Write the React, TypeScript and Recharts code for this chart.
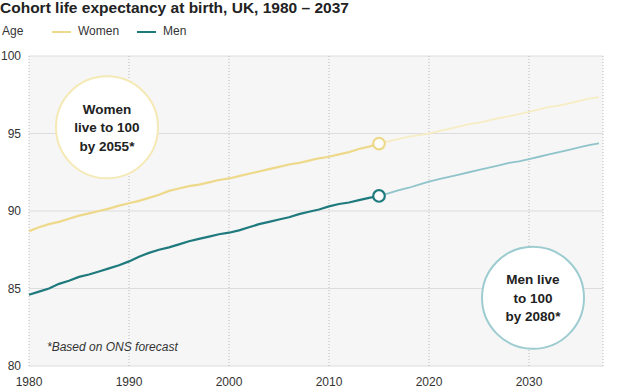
import React from "react";
import {
  LineChart,
  Line,
  XAxis,
  YAxis,
  CartesianGrid,
  ReferenceDot,
} from "recharts";

// years 1980 - 2037
const years = Array.from({ length: 58 }, (_, i) => 1980 + i);

// observed, 1980 - 2015
const womenObserved = [
  88.7, 88.95, 89.15, 89.3, 89.5, 89.7, 89.85, 90.0, 90.15, 90.35,
  90.5, 90.65, 90.85, 91.05, 91.3, 91.45, 91.6, 91.7, 91.85, 92.0,
  92.1, 92.25, 92.4, 92.55, 92.7, 92.85, 93.0, 93.1, 93.25, 93.4,
  93.5, 93.65, 93.8, 94.0, 94.15, 94.35,
];
const menObserved = [
  84.6, 84.8, 85.0, 85.3, 85.5, 85.75, 85.9, 86.1, 86.3, 86.5,
  86.75, 87.05, 87.3, 87.5, 87.65, 87.85, 88.05, 88.2, 88.35, 88.5,
  88.6, 88.75, 88.95, 89.15, 89.3, 89.45, 89.6, 89.8, 89.95, 90.1,
  90.3, 90.45, 90.55, 90.7, 90.85, 90.97,
];

// forecast, 2015 - 2037
const womenForecast = [
  94.35, 94.5, 94.65, 94.8, 94.9, 95.0, 95.15, 95.3, 95.45, 95.6,
  95.7, 95.85, 96.0, 96.1, 96.25, 96.4, 96.55, 96.7, 96.8, 96.95,
  97.1, 97.25, 97.35,
];
const menForecast = [
  90.97, 91.15, 91.35, 91.5, 91.7, 91.9, 92.05, 92.2, 92.35, 92.5,
  92.65, 92.8, 92.95, 93.1, 93.2, 93.35, 93.5, 93.65, 93.8, 93.95,
  94.1, 94.25, 94.36,
];

const forecastStart = 2015;
const xTicks = [1980, 1990, 2000, 2010, 2020, 2030];
const yTicks = [80, 85, 90, 95, 100];

const data = years.map((year, i) => {
  const j = year - forecastStart;
  return {
    year,
    women: i < womenObserved.length ? womenObserved[i] : null,
    men: i < menObserved.length ? menObserved[i] : null,
    womenF: j >= 0 ? womenForecast[j] : null,
    menF: j >= 0 ? menForecast[j] : null,
  };
});

const WOMEN = "#eed98a";
const WOMEN_LIGHT = "#f7edc4";
const MEN = "#1f7a7e";
const MEN_LIGHT = "#8fc4ca";
const FONT = "'Liberation Sans', Arial, sans-serif";

const legendItems = [
  { name: "Women", color: WOMEN, line: 52, text: 78 },
  { name: "Men", color: MEN, line: 137, text: 163 },
];

const endDot = (color: string) => (props: any) => {
  const { cx, cy, payload, index } = props;
  if (payload.year !== forecastStart || cx == null) return <g key={index} />;
  return (
    <circle
      key={index}
      cx={cx}
      cy={cy}
      r={5.8}
      fill="#fcfcfc"
      stroke={color}
      strokeWidth={2.2}
    />
  );
};

const bubble = (lines: string[], stroke: string) => (props: any) => {
  const { cx, cy } = props;
  return (
    <g>
      <circle cx={cx} cy={cy} r={51} fill="#ffffff" stroke={stroke} strokeWidth={2} />
      {lines.map((t, i) => (
        <text
          key={i}
          x={cx}
          y={cy + (i - 1) * 18.5}
          dy="0.35em"
          textAnchor="middle"
          fontSize={13.5}
          fontWeight="bold"
          fill="#222"
          fontFamily={FONT}
        >
          {t}
        </text>
      ))}
    </g>
  );
};

export default function App() {
  return (
    <div
      style={{
        position: "absolute",
        left: 0,
        top: 0,
        width: 621,
        height: 388,
        background: "#fff",
        fontFamily: FONT,
        overflow: "hidden",
      }}
    >
      <div
        style={{
          position: "absolute",
          left: 0,
          top: 0,
          fontSize: 15.5,
          lineHeight: "15px",
          fontWeight: "bold",
          color: "#222",
          whiteSpace: "nowrap",
        }}
      >
        Cohort life expectancy at birth, UK, 1980 – 2037
      </div>
      <div
        style={{
          position: "absolute",
          left: 0,
          top: 24,
          width: 300,
          height: 16,
          fontSize: 12,
          color: "#333",
        }}
      >
        <span style={{ position: "absolute", left: 2, top: 0 }}>Age</span>
        {legendItems.map((p) => (
          <React.Fragment key={p.name}>
            <span
              style={{
                position: "absolute",
                left: p.line,
                top: 7,
                width: 19,
                height: 2,
                background: p.color,
              }}
            />
            <span style={{ position: "absolute", left: p.text, top: 0 }}>
              {p.name}
            </span>
          </React.Fragment>
        ))}
      </div>
      <LineChart
        width={621}
        height={388}
        data={data}
        margin={{ top: 56, right: 18, bottom: 0, left: 0 }}
      >
        <CartesianGrid
          vertical={false}
          fill="#f6f6f6"
          stroke="#dcdcdc"
          strokeWidth={1}
        />
        <CartesianGrid
          horizontal={false}
          stroke="#b8b8b8"
          strokeDasharray="1 2"
        />
        <XAxis
          dataKey="year"
          type="number"
          domain={[1980, 2037.4]}
          ticks={xTicks}
          height={22}
          tickSize={0}
          tickMargin={11}
          axisLine={false}
          tickLine={false}
          tick={{ fontSize: 12, fill: "#333", fontFamily: FONT }}
        />
        <YAxis
          domain={[80, 100]}
          ticks={yTicks}
          width={29}
          tickSize={0}
          tickMargin={8}
          axisLine={false}
          tickLine={false}
          tick={{ fontSize: 12, fill: "#333", fontFamily: FONT }}
        />
        <ReferenceDot
          x={1987.8}
          y={95.4}
          r={51}
          ifOverflow="visible"
          shape={bubble(["Women", "live to 100", "by 2055*"], "#f5e9b6")}
        />
        <ReferenceDot
          x={2030.4}
          y={84.4}
          r={51}
          ifOverflow="visible"
          shape={bubble(["Men live", "to 100", "by 2080*"], "#9dccd0")}
        />
        <Line
          dataKey="womenF"
          stroke={WOMEN_LIGHT}
          strokeWidth={1.8}
          dot={false}
          activeDot={false}
          isAnimationActive={false}
        />
        <Line
          dataKey="menF"
          stroke={MEN_LIGHT}
          strokeWidth={1.8}
          dot={false}
          activeDot={false}
          isAnimationActive={false}
        />
        <Line
          dataKey="women"
          name="Women"
          stroke={WOMEN}
          strokeWidth={2.2}
          dot={endDot(WOMEN)}
          activeDot={false}
          isAnimationActive={false}
        />
        <Line
          dataKey="men"
          name="Men"
          stroke={MEN}
          strokeWidth={2.2}
          dot={endDot(MEN)}
          activeDot={false}
          isAnimationActive={false}
        />
      </LineChart>
      <div
        style={{
          position: "absolute",
          left: 47,
          top: 340,
          fontSize: 12,
          fontStyle: "italic",
          color: "#333",
        }}
      >
        *Based on ONS forecast
      </div>
    </div>
  );
}
